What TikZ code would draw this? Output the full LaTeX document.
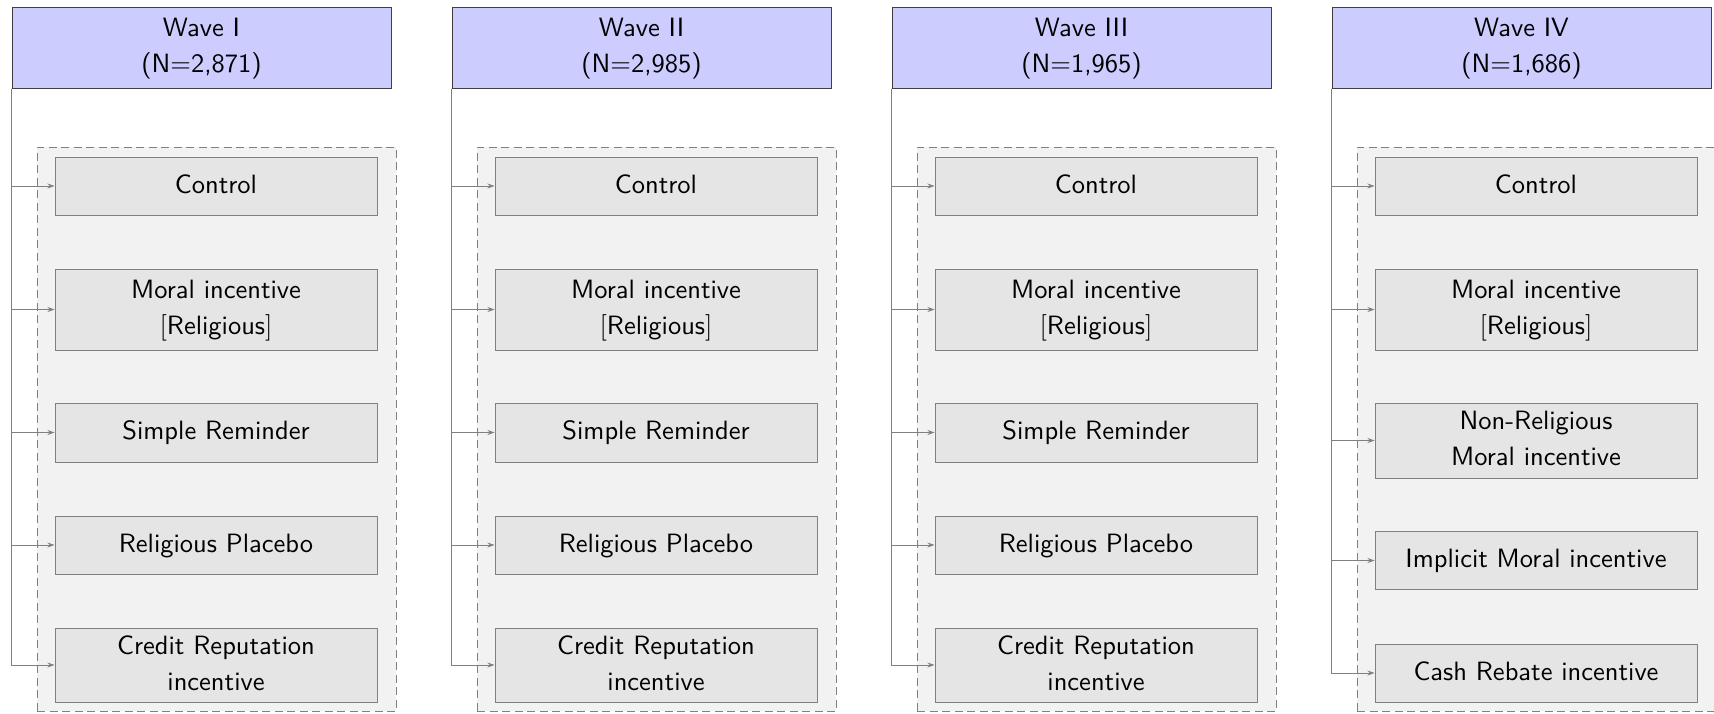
\documentclass[tikz,border=0pt]{standalone}
\usepackage{graphicx}
\usetikzlibrary{arrows.meta}
\newcommand{\lbl}[1]{\scalebox{2.65}{\renewcommand{\arraystretch}{1.13}\begin{tabular}{@{}c@{}}#1\end{tabular}}}
\begin{document}
\begin{tikzpicture}[x=1pt,y=-1pt,
 every node/.style={font=\sffamily, align=center, inner sep=0pt},
 header/.style={draw=black!75, line width=1pt, fill=blue!20, minimum width=379pt, minimum height=81pt},
 group/.style={draw=gray, dash pattern=on 8pt off 4.5pt, line width=1pt, fill=gray!10, minimum width=359pt, minimum height=564pt},
 treat/.style={draw=gray, line width=1pt, fill=gray!20, minimum width=322pt},
 arr/.style={draw=gray, line width=0.9pt, -{Stealth[length=7pt,width=5pt]}}
]
\useasboundingbox (0,0) rectangle (1714,713);
\foreach \i/\w/\n in {0/I/{2,871},1/II/{2,985},2/III/{1,965}}{
  \node[header] (h\i) at ({201.5+\i*440},47.5) {\lbl{Wave \w\\(N$=$\n)}};
  \node[group] (g\i) at ({216.5+\i*440},429) {};
  \node[treat, minimum height=58pt] (c\i) at ({216+\i*440},186) {\lbl{Control}};
  \node[treat, minimum height=81pt] (m\i) at ({216+\i*440},309.5) {\lbl{Moral incentive\\$[$Religious$]$}};
  \node[treat, minimum height=59pt] (s\i) at ({216+\i*440},432.5) {\lbl{Simple Reminder}};
  \node[treat, minimum height=58pt] (p\i) at ({216+\i*440},545) {\lbl{Religious Placebo}};
  \node[treat, minimum height=74pt] (r\i) at ({216+\i*440},665) {\lbl{Credit Reputation\\incentive}};
  \foreach \t in {c,m,s,p,r}{
    \draw[arr] (h\i.south west) |- (\t\i.west);
  }
}
\node[header] (h3) at (1521.5,47.5) {\lbl{Wave IV\\(N$=$1,686)}};
\node[group] (g3) at (1536.5,429) {};
\node[treat, minimum height=58pt] (c3) at (1536,186) {\lbl{Control}};
\node[treat, minimum height=81pt] (m3) at (1536,309.5) {\lbl{Moral incentive\\$[$Religious$]$}};
\node[treat, minimum height=75pt] (n3) at (1536,440.5) {\lbl{Non-Religious\\Moral incentive}};
\node[treat, minimum height=58pt] (i3) at (1536,560.5) {\lbl{Implicit Moral incentive}};
\node[treat, minimum height=58pt] (k3) at (1536,673) {\lbl{Cash Rebate incentive}};
\foreach \t in {c,m,n,i,k}{
  \draw[arr] (h3.south west) |- (\t3.west);
}
\end{tikzpicture}
\end{document}
